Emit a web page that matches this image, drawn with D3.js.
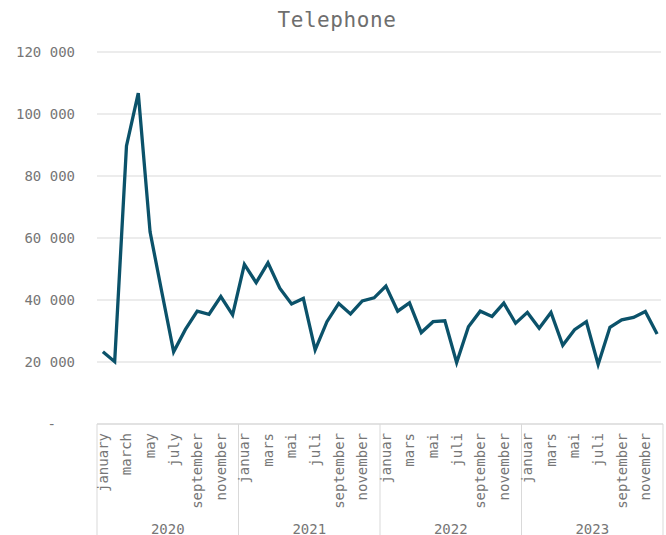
<!DOCTYPE html>
<html>
<head>
<meta charset="utf-8">
<script src="https://cdn.jsdelivr.net/npm/d3@7"></script>
<style>
  html, body { margin: 0; padding: 0; background: #fff; }
  svg { display: block; }
  text { font-family: "DejaVu Sans Mono", "Liberation Mono", monospace; fill: #767676; }
</style>
</head>
<body>
<svg id="chart" width="666" height="535"></svg>
<script>
const title = "Telephone";
const years = ["2020", "2021", "2022", "2023"];
const monthLabels2020 = ["january", "", "march", "", "may", "", "july", "", "september", "", "november", ""];
const monthLabelsNo = ["januar", "", "mars", "", "mai", "", "juli", "", "september", "", "november", ""];
const values2020 = [23300, 20100, 89700, 106700, 62000, 42500, 23300, 30500, 36400, 35400, 41100, 35200];
const values2021 = [51500, 45600, 52000, 43800, 38700, 40500, 23900, 33000, 38900, 35500, 39700, 40700];
const values2022 = [44500, 36400, 39100, 29500, 33000, 33300, 19800, 31400, 36400, 34700, 39000, 32500];
const values2023 = [36000, 30900, 36000, 25400, 30400, 33000, 19200, 31200, 33600, 34400, 36300, 29000];
const yTicks = [0, 20000, 40000, 60000, 80000, 100000, 120000];

const seriesByYear = [values2020, values2021, values2022, values2023];
const labelsByYear = [monthLabels2020, monthLabelsNo, monthLabelsNo, monthLabelsNo];
const data = [];
years.forEach((yr, yi) => {
  seriesByYear[yi].forEach((v, mi) => {
    data.push({ key: yr + "-" + mi, year: yr, label: labelsByYear[yi][mi], value: v });
  });
});

const svg = d3.select("#chart");
const mLeft = 97, mRight = 663, mTop = 52, mBottom = 424;

const x = d3.scaleBand().domain(data.map(d => d.key)).range([mLeft, mRight]).padding(0);
const y = d3.scaleLinear().domain([0, 120000]).range([mBottom, mTop]);

// title
svg.append("text")
  .attr("x", 337).attr("y", 27)
  .attr("text-anchor", "middle")
  .style("font-size", "21px")
  .style("letter-spacing", "0.6px")
  .style("fill", "#6e6e6e")
  .text(title);

// gridlines
svg.append("g").selectAll("line")
  .data(yTicks.filter(t => t > 0))
  .join("line")
  .attr("x1", mLeft).attr("x2", mRight - 2)
  .attr("y1", d => y(d)).attr("y2", d => y(d))
  .attr("stroke", "#d9d9d9").attr("stroke-width", 1);

// y axis labels
const fmt = v => v === 0 ? "-" : d3.format(",")(v).replace(/,/g, " ");
svg.append("g").selectAll("text")
  .data(yTicks)
  .join("text")
  .attr("x", d => d === 0 ? 56 : 75)
  .attr("y", d => y(d))
  .attr("dy", "0.35em")
  .attr("text-anchor", "end")
  .style("font-size", "14px")
  .text(fmt);

// category axis line
svg.append("line")
  .attr("x1", mLeft).attr("x2", mRight)
  .attr("y1", mBottom).attr("y2", mBottom)
  .attr("stroke", "#d9d9d9").attr("stroke-width", 1.5);

// year separators
const yearStarts = years.map(yr => x(yr + "-0"));
const seps = yearStarts.concat([mRight]);
svg.append("g").selectAll("line")
  .data(seps)
  .join("line")
  .attr("x1", d => d).attr("x2", d => d)
  .attr("y1", mBottom).attr("y2", 535)
  .attr("stroke", "#d9d9d9").attr("stroke-width", 1);

// month labels
svg.append("g").selectAll("text")
  .data(data.filter(d => d.label))
  .join("text")
  .attr("transform", d => `translate(${x(d.key) + x.bandwidth() / 2},433) rotate(-90)`)
  .attr("text-anchor", "end")
  .attr("dy", "0.35em")
  .style("font-size", "14px")
  .text(d => d.label);

// year labels
svg.append("g").selectAll("text")
  .data(years)
  .join("text")
  .attr("x", (d, i) => (seps[i] + seps[i + 1]) / 2)
  .attr("y", 534)
  .attr("text-anchor", "middle")
  .style("font-size", "14px")
  .text(d => d);

// line
const line = d3.line()
  .x(d => x(d.key) + x.bandwidth() / 2)
  .y(d => y(d.value));
svg.append("path")
  .datum(data)
  .attr("d", line)
  .attr("fill", "none")
  .attr("stroke", "#0b526a")
  .attr("stroke-width", 3.3)
  .attr("stroke-linejoin", "miter")
  .attr("stroke-linecap", "butt");
</script>
</body>
</html>
